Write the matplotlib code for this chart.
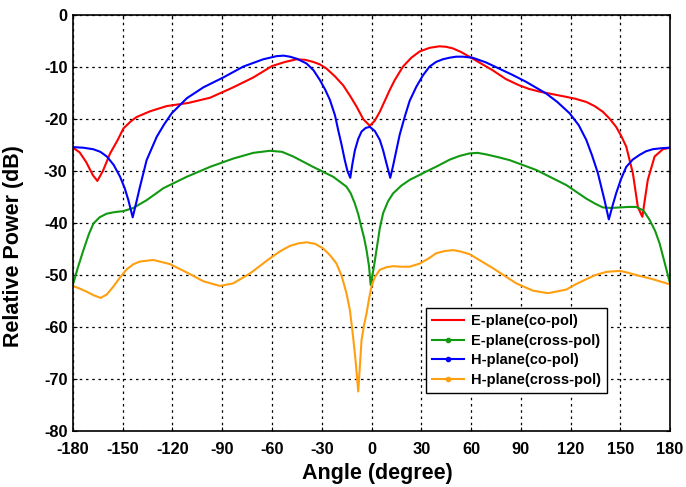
import matplotlib
matplotlib.use("Agg")
import matplotlib.pyplot as plt
from matplotlib.lines import Line2D

plt.rcParams['font.family'] = ['Liberation Sans', 'DejaVu Sans']
plt.rcParams['axes.unicode_minus'] = False

# E-plane co-pol
e_co_x = [-180, -176, -172, -168, -165.3, -162, -157.6, -153, -149.6, -145, -141.6, -133.5, -123.5,
          -110.5, -97.4, -83.4, -71.3, -60, -52, -45.2, -40, -35.2, -31, -27.1, -22, -17.1, -13,
          -9, -5, -1, 2, 5, 8, 11, 14, 19, 24, 29, 35, 41, 45, 49, 54, 59, 66, 73,
          81, 89, 95, 101, 109, 117, 123, 129.5, 134.5, 139.5, 143.5, 147.5, 150.5, 153.6, 157.6,
          160.6, 163.3, 166.6, 170.7, 175.7, 180]
e_co_y = [-25.5, -26.4, -28.3, -30.8, -31.9, -30.0, -26.6, -24.0, -21.8, -20.4, -19.6, -18.5, -17.5,
          -16.9, -15.9, -13.9, -12.0, -9.8, -9.0, -8.5, -8.6, -9.0, -9.5, -10.3, -11.8, -13.5, -15.5,
          -17.6, -20.0, -21.3, -20.3, -18.6, -16.5, -14.4, -12.5, -9.9, -8.2, -7.0, -6.3, -6.0, -6.1, -6.4, -7.1, -8.0, -9.3, -10.6,
          -12.3, -13.5, -14.2, -14.7, -15.2, -15.7, -16.1, -16.7, -17.5, -18.6, -19.9, -21.5, -23.2, -25.3, -30.4,
          -36.9, -38.8, -31.7, -27.2, -25.8, -25.5]

# E-plane cross-pol
e_x_x = [-180, -177, -173.7, -170.5, -167.7, -164, -159.7, -155, -149.6, -143.6, -135.6, -125.5, -111.4,
         -97.4, -83.4, -71.3, -61.3, -54, -47.2, -35.2, -23.1, -15.1, -12.5, -10.1, -8, -6.2, -4.5,
         -3, -1.5, -0.5, 1.5, 3, 5, 7, 10, 13, 18, 23, 33, 40, 47.2,
         53, 59.2, 64, 69.2, 76, 83.3, 99.4, 117.5, 129.5, 135, 139.5, 144.5, 149.6, 155, 159.6, 164,
         167.7, 171, 173.7, 176.5, 180]
e_x_y = [-51.8, -48.5, -45.2, -42.2, -40.1, -38.9, -38.2, -37.9, -37.7, -37.1, -35.6, -33.3, -31.1,
         -29.2, -27.6, -26.5, -26.1, -26.3, -27.2, -29.2, -31.1, -33.0, -34.3, -36.2, -38.3, -40.7, -42.8,
         -45.2, -48.3, -51.9, -48.3, -45.2, -41.0, -38.1, -35.8, -34.3, -32.8, -31.7, -30.1, -29.0, -27.8,
         -27.1, -26.6, -26.5, -26.8, -27.3, -27.9, -29.8, -32.7, -35.3, -36.3, -37.0, -37.1, -37.0, -36.9, -36.9, -37.6,
         -39.4, -41.5, -43.9, -47.3, -51.6]

# H-plane co-pol
h_co_x = [-180, -174, -167.8, -163.5, -159.6, -155.5, -151.6, -148.8, -146.6, -144, -141.8, -139.6,
          -135.6, -129.5, -125, -120.5, -111.4, -101.4, -89.4, -77.3, -65.3, -57.3, -53, -49.2, -45,
          -39.2, -35, -31.1, -28, -25.1, -22, -20.1, -18, -16.1, -14.5, -12.8, -11.5, -10, -8, -6,
          -3.5, -1, 2, 5, 7, 9, 11.3, 13, 15, 17, 20, 23, 27, 31, 35, 39, 43, 47, 51, 55,
          61, 69, 77, 85, 93, 105.4, 112, 119.5, 125, 129.5, 133, 136.5, 140.5, 143.1,
          145.5, 147.5, 150.5, 153.6, 157.5, 161.6, 165.5, 169.6, 175, 180]
h_co_y = [-25.4, -25.5, -25.8, -26.3, -27.2, -28.8, -31.1, -33.3, -35.6, -38.9, -36.0, -33.0,
          -27.9, -23.4, -21.0, -18.9, -16.0, -13.9, -12.0, -9.9, -8.5, -7.9, -7.8, -8.0, -8.4,
          -9.3, -10.6, -12.5, -14.3, -16.3, -19.3, -22.1, -25.0, -27.9, -30.0, -31.3, -28.6, -26.0, -23.8, -22.4,
          -21.7, -21.5, -22.3, -24.0, -26.0, -28.5, -31.3, -29.0, -26.0, -23.0, -19.6, -16.5, -13.8, -11.6, -9.9, -9.0, -8.5, -8.2, -8.0, -8.0,
          -8.2, -9.1, -10.3, -11.5, -12.8, -15.1, -16.7, -18.9, -21.2, -24.0, -27.0, -30.4, -35.6, -39.3,
          -36.5, -34.3, -31.5, -29.2, -27.8, -26.9, -26.2, -25.8, -25.6, -25.5]

# H-plane cross-pol
h_x_x = [-180, -176, -171.8, -167.5, -163.3, -159.5, -155.6, -151.5, -147.6, -143.5, -139.6, -131.6,
         -121.5, -111.4, -101.4, -91.4, -83.4, -73.3, -61.3, -55, -49.2, -44, -39.2, -34, -29.1,
         -25, -21.1, -18, -15.1, -13, -11.1, -9.5, -8, -7, -6, -4.5, -3, -1.5, 0, 2, 5, 9, 13,
         18, 23, 29, 34, 39.1, 44, 49.2, 54, 59.2, 66, 73.3, 80, 87.3, 97.3, 106.4, 117.4, 123,
         129.5, 135, 141.6, 149.6, 154, 159.6, 169.6, 180]
h_x_y = [-52.1, -52.6, -53.2, -53.9, -54.4, -53.7, -52.2, -50.4, -48.9, -47.9, -47.4, -47.1,
         -47.9, -49.5, -51.2, -52.1, -51.6, -49.7, -46.8, -45.4, -44.4, -43.9, -43.7, -44.0, -44.9,
         -46.2, -47.8, -50.2, -53.5, -56.8, -61.9, -66.8, -72.4, -67.5, -62.5, -59.6, -57.4, -54.6, -52.2, -50.4, -49.0, -48.5, -48.3,
         -48.4, -48.4, -47.8, -46.9, -45.8, -45.4, -45.2, -45.5, -46.0, -47.3, -48.7, -50.1, -51.6, -53.0, -53.5, -52.8, -51.8,
         -50.8, -50.0, -49.4, -49.2, -49.5, -50.0, -50.8, -51.8]

labels = ['E-plane(co-pol)', 'E-plane(cross-pol)', 'H-plane(co-pol)', 'H-plane(cross-pol)']
colors = ['#ff0000', '#119911', '#0000ff', '#ff9f10']

fig = plt.figure(figsize=(6.86, 4.87), dpi=100)
ax = fig.add_axes([0.1064, 0.115, 0.8703, 0.854])

series = [(e_co_x, e_co_y), (e_x_x, e_x_y), (h_co_x, h_co_y), (h_x_x, h_x_y)]
for (xs, ys), c in zip(series, colors):
    ax.plot(xs, ys, color=c, lw=1.5)

ax.set_xlim(-180, 180)
ax.set_ylim(-80, 0)
ax.set_xticks(range(-180, 181, 30))
ax.set_yticks(range(-80, 1, 10))
ax.grid(True, color='black', linestyle=(0, (2, 3)), linewidth=0.9)
ax.tick_params(direction='in', top=True, right=True, length=3, labelsize=11.8)
ax.tick_params(axis='x', pad=8)
ax.tick_params(axis='y', pad=4)
for lab in ax.get_xticklabels() + ax.get_yticklabels():
    lab.set_fontweight('bold')
for sp in ax.spines.values():
    sp.set_linewidth(1.2)

ax.set_xlabel('Angle (degree)', fontsize=15.5, fontweight='bold')
ax.set_ylabel('Relative Power (dB)', fontsize=15.5, fontweight='bold')
ax.xaxis.set_label_coords(0.51, -0.077)
ax.yaxis.set_label_coords(-0.082, 0.4435)

handles = [Line2D([], [], color=colors[0], lw=1.5)]
for c in colors[1:]:
    handles.append(Line2D([], [], color=c, lw=1.5, marker='o', markersize=3, markevery=[1]))
leg = ax.legend(handles, labels, loc='lower left', bbox_to_anchor=(0.591, 0.091),
                borderaxespad=0, fancybox=False, edgecolor='black', framealpha=1,
                prop={'weight': 'bold', 'size': 10.5}, handlelength=2.2,
                labelspacing=0.4, borderpad=0.4, handletextpad=0.5)
leg.get_frame().set_linewidth(1.0)

fig.savefig('out.png', dpi=100)
